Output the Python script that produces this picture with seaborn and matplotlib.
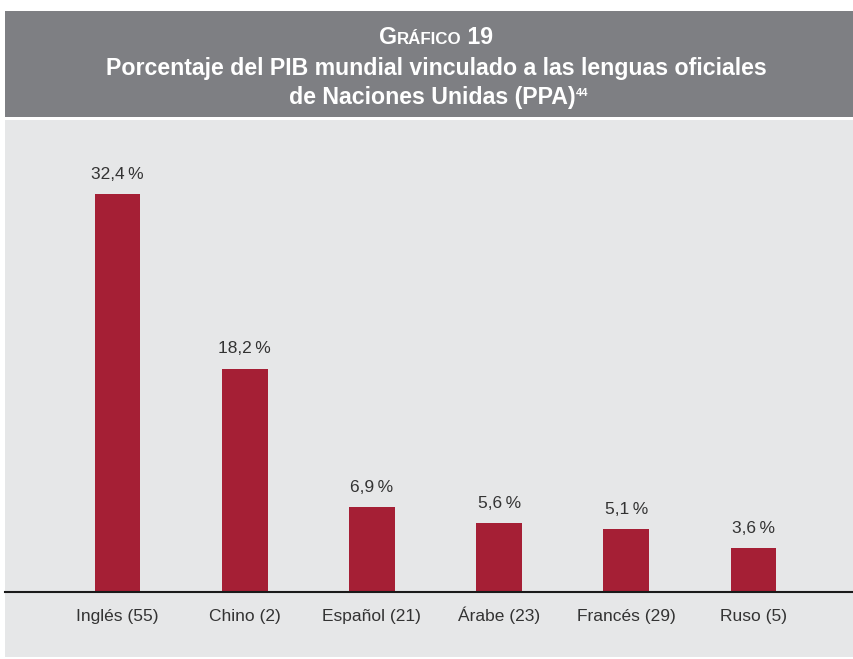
import matplotlib
matplotlib.use("Agg")
import matplotlib.pyplot as plt
from matplotlib.patches import Rectangle
from matplotlib.transforms import blended_transform_factory
import seaborn as sns
import pandas as pd

categories = ["Inglés (55)", "Chino (2)", "Español (21)", "Árabe (23)", "Francés (29)", "Ruso (5)"]
values = [32.4, 18.2, 6.9, 5.6, 5.1, 3.6]
value_labels = ["32,4\u2009%", "18,2\u2009%", "6,9\u2009%", "5,6\u2009%", "5,1\u2009%", "3,6\u2009%"]

BAR = "#a51f35"
BAND = "#7e7f83"
PANEL = "#e6e7e8"
TXT = "#333333"

sns.set_theme(style="white")
plt.rcParams['font.family'] = ['Liberation Sans', 'DejaVu Sans']

W, H = 854, 659
fig = plt.figure(figsize=(W / 100, H / 100), dpi=100)
fig.patch.set_facecolor("white")

def fx(px):
    return px / W

def fy(py):
    return 1 - py / H

# background bands
fig.patches.append(Rectangle((fx(5), fy(117)), fx(854) - fx(5), fy(11) - fy(117),
                             transform=fig.transFigure, facecolor=BAND, edgecolor="none", zorder=-2))
fig.patches.append(Rectangle((fx(5), fy(657)), fx(854) - fx(5), fy(120) - fy(657),
                             transform=fig.transFigure, facecolor=PANEL, edgecolor="none", zorder=-2))

ax = fig.add_axes([fx(5), fy(592), fx(854) - fx(5), fy(122) - fy(592)])
ax.set_zorder(1)
ax.patch.set_alpha(0)

df = pd.DataFrame({"cat": categories, "val": values})
sns.barplot(data=df, x="cat", y="val", color=BAR, saturation=1, width=0.36,
            linewidth=0, ax=ax)

px_per_unit = 127.2
x0 = 117.5
ax.set_xlim(-(x0 - 5) / px_per_unit, (854 - x0) / px_per_unit)
ax.set_ylim(0, (592 - 122) / 12.27)

for i, (v, lab) in enumerate(zip(values, value_labels)):
    ax.annotate(lab, (i, v), xytext=(0, 11), textcoords="offset points",
                ha="center", va="baseline", fontsize=12.5, color=TXT,
                family=['Liberation Sans', 'DejaVu Sans'])

# category labels on a common baseline below the axis line
trans = blended_transform_factory(ax.transData, fig.transFigure)
for i, c in enumerate(categories):
    ax.text(i, fy(621), c, transform=trans, ha="center", va="baseline",
            fontsize=12.5, color=TXT)

for s in ["top", "right", "left"]:
    ax.spines[s].set_visible(False)
ax.spines["bottom"].set_color("#1a1a1a")
ax.spines["bottom"].set_linewidth(1.5)
ax.set_yticks([])
ax.set_xticks([])
ax.set_xlabel("")
ax.set_ylabel("")

# Title
cx = fx(432)
r = fig.canvas.get_renderer()
big = 16.7
small = 12.2
parts = [("G", big), ("RÁFICO", small), (" 19", big)]
texts = []
for s, size in parts:
    t = fig.text(0, fy(44), s, color="white", fontsize=size, fontweight="bold",
                 ha="left", va="baseline")
    texts.append(t)
widths = [t.get_window_extent(r).width for t in texts]
total = sum(widths)
xstart = 436 - total / 2
for t, w in zip(texts, widths):
    t.set_x(fx(xstart))
    xstart += w

fig.text(cx + fx(4), fy(75), "Porcentaje del PIB mundial vinculado a las lenguas oficiales",
         color="white", fontsize=big, fontweight="bold", ha="center", va="baseline")
t3 = fig.text(cx, fy(104), "de Naciones Unidas (PPA)", color="white", fontsize=big,
              fontweight="bold", ha="center", va="baseline")
bb = t3.get_window_extent(r)
fig.text(fx(bb.x1 + 1), fy(96), "44", color="white", fontsize=8, fontweight="bold",
         ha="left", va="baseline")

fig.savefig("out.png", dpi=100, facecolor=fig.get_facecolor())
